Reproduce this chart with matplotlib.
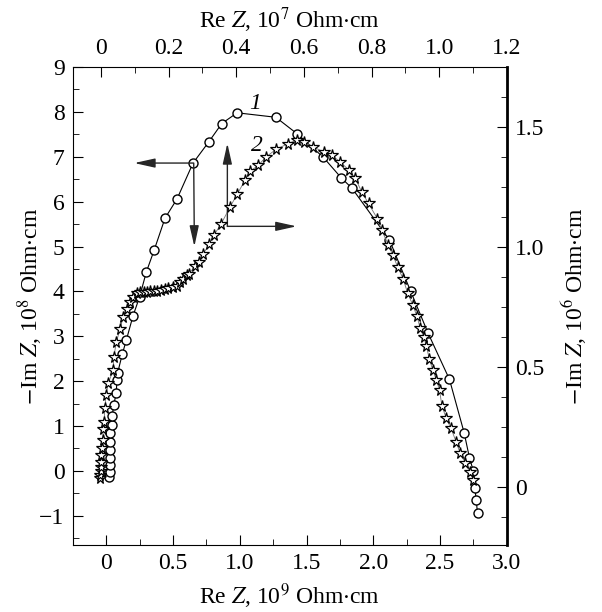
import matplotlib
matplotlib.use("Agg")
import matplotlib.pyplot as plt
from matplotlib.ticker import MultipleLocator

plt.rcParams["font.family"] = ["Liberation Serif", "DejaVu Serif"]
plt.rcParams["mathtext.fontset"] = "stix"

# Curve 1 (circles): Re Z in 1e9 Ohm*cm (bottom), -Im Z in 1e8 Ohm*cm (left)
re1 = [0.02, 0.025, 0.025, 0.025, 0.025, 0.03, 0.03, 0.04, 0.045, 0.055,
       0.075, 0.08, 0.085, 0.12, 0.15, 0.20, 0.25, 0.30, 0.36, 0.44,
       0.53, 0.65, 0.77, 0.865, 0.98, 1.27, 1.43, 1.625, 1.76, 1.84,
       2.12, 2.28, 2.41, 2.57, 2.68, 2.72, 2.75, 2.76, 2.77, 2.78]
im1 = [-0.14, -0.02, 0.13, 0.28, 0.46, 0.65, 0.84, 1.02, 1.22, 1.46,
       1.73, 2.02, 2.18, 2.60, 2.91, 3.45, 3.88, 4.43, 4.93, 5.63,
       6.06, 6.86, 7.34, 7.74, 7.98, 7.88, 7.51, 6.99, 6.53, 6.30,
       5.15, 4.00, 3.07, 2.04, 0.85, 0.29, -0.01, -0.37, -0.64, -0.94]

# Curve 2 (stars): Re Z in 1e7 Ohm*cm (top), -Im Z in 1e6 Ohm*cm (right)
re2 = [-0.003, -0.003, -0.001, 0.0, 0.0, 0.0, 0.002, 0.005, 0.007, 0.009,
       0.012, 0.015, 0.022, 0.036, 0.038, 0.046, 0.056, 0.066, 0.076, 0.086,
       0.096, 0.106, 0.115, 0.126, 0.136, 0.146, 0.157, 0.167, 0.178, 0.188,
       0.198, 0.214, 0.225, 0.234, 0.243, 0.254, 0.261, 0.278, 0.291, 0.303,
       0.320, 0.334, 0.355, 0.382, 0.403, 0.426, 0.441, 0.465, 0.488, 0.518,
       0.554, 0.579, 0.599, 0.628, 0.658, 0.683, 0.707, 0.732, 0.751, 0.771,
       0.791, 0.817, 0.830, 0.850, 0.863, 0.877, 0.893, 0.907, 0.922, 0.934,
       0.944, 0.954, 0.962, 0.971, 0.981, 0.991, 1.001, 1.008, 1.021, 1.035,
       1.050, 1.062, 1.077, 1.092, 1.100]
im2 = [0.035, 0.050, 0.066, 0.083, 0.104, 0.132, 0.161, 0.195, 0.240, 0.271,
       0.328, 0.382, 0.432, 0.486, 0.542, 0.604, 0.656, 0.708, 0.743, 0.771,
       0.792, 0.806, 0.812, 0.813, 0.813, 0.814, 0.815, 0.817, 0.820, 0.824,
       0.830, 0.833, 0.836, 0.854, 0.868, 0.882, 0.889, 0.920, 0.937, 0.972,
       1.011, 1.049, 1.095, 1.167, 1.220, 1.278, 1.315, 1.340, 1.375, 1.407,
       1.431, 1.445, 1.437, 1.417, 1.396, 1.382, 1.354, 1.322, 1.289, 1.229,
       1.181, 1.118, 1.070, 1.007, 0.965, 0.917, 0.868, 0.806, 0.757, 0.711,
       0.660, 0.625, 0.586, 0.531, 0.486, 0.447, 0.403, 0.336, 0.285, 0.243,
       0.187, 0.139, 0.100, 0.062, 0.028]

fig = plt.figure(figsize=(6.02, 6.12), dpi=100)
ax = fig.add_axes([0.121, 0.1095, 0.721, 0.781])
ax2 = fig.add_axes(ax.get_position(), frameon=False)

# Curve 1 on bottom/left axes
ax.plot(re1, im1, "k-", lw=0.8, marker="o", ms=6.5, mfc="white", mec="k", mew=1.0)
ax.set_xlim(-0.25, 3.0)
ax.set_ylim(-1.65, 9.0)
ax.xaxis.set_minor_locator(MultipleLocator(0.25))
ax.yaxis.set_minor_locator(MultipleLocator(0.5))
ax.set_xticks([0, 0.5, 1.0, 1.5, 2.0, 2.5, 3.0])
ax.set_xticklabels(["0", "0.5", "1.0", "1.5", "2.0", "2.5", "3.0"])
ax.set_yticks(range(-1, 10))
ax.set_yticklabels(["\u22121"] + [str(i) for i in range(0, 10)])
ax.tick_params(which="both", direction="in", top=False, right=False, labelsize=17, pad=6)
ax.tick_params(which="major", length=7)
ax.tick_params(which="minor", length=4)
ax.set_xlabel(r"Re $Z$, 10$^{9}$ Ohm$\cdot$cm", fontsize=17, labelpad=5)
ax.set_ylabel(r"$-$Im $Z$, 10$^{8}$ Ohm$\cdot$cm", fontsize=17, labelpad=-4)

# Curve 2 on top/right axes
ax2.plot(re2, im2, "-", color="0.45", lw=0.6, marker="*", ms=8.5, mfc="white", mec="k", mew=0.9)
ax2.set_xlim(-0.083, 1.2)
ax2.set_ylim(-0.243, 1.75)
ax2.xaxis.tick_top()
ax2.yaxis.tick_right()
ax2.xaxis.set_label_position("top")
ax2.yaxis.set_label_position("right")
ax2.set_xticks([0, 0.2, 0.4, 0.6, 0.8, 1.0, 1.2])
ax2.set_xticklabels(["0", "0.2", "0.4", "0.6", "0.8", "1.0", "1.2"])
ax2.xaxis.set_minor_locator(MultipleLocator(0.1))
ax2.set_yticks([0, 0.5, 1.0, 1.5])
ax2.set_yticklabels(["0", "0.5", "1.0", "1.5"])
ax2.yaxis.set_minor_locator(MultipleLocator(0.125))
ax2.tick_params(which="both", direction="in", labelsize=17, pad=6)
ax2.tick_params(which="major", length=7)
ax2.tick_params(which="minor", length=4)
ax2.set_xlabel(r"Re $Z$, 10$^{7}$ Ohm$\cdot$cm", fontsize=17, labelpad=7)
ax2.set_ylabel(r"$-$Im $Z$, 10$^{6}$ Ohm$\cdot$cm", fontsize=17, labelpad=11)
ax.spines["right"].set_linewidth(2.0)

# Axis-pointer arrows
aprops = dict(arrowstyle="-|>,head_length=0.9,head_width=0.2", color="0.15",
              lw=1.0, shrinkA=0, shrinkB=0, mutation_scale=14)
ax.annotate("", xy=(0.21, 6.86), xytext=(0.65, 6.86), arrowprops=aprops)
ax.annotate("", xy=(0.66, 5.0), xytext=(0.655, 6.86), arrowprops=aprops)
ax.annotate("", xy=(0.907, 7.3), xytext=(0.907, 5.45), arrowprops=aprops)
ax.annotate("", xy=(1.425, 5.45), xytext=(0.907, 5.45), arrowprops=aprops)

ax.text(1.117, 8.19, "1", fontsize=17, style="italic", ha="center", va="center")
ax.text(1.13, 7.25, "2", fontsize=17, style="italic", ha="center", va="center")

fig.savefig("out.png", dpi=100)
